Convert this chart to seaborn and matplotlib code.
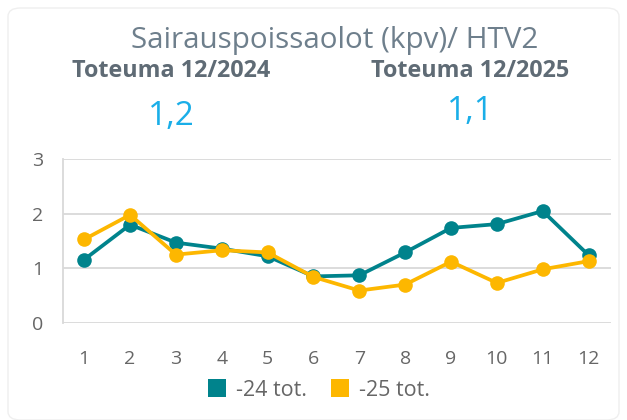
import matplotlib
matplotlib.use("Agg")
import matplotlib.pyplot as plt
from matplotlib.lines import Line2D
from matplotlib.patches import FancyBboxPatch
import seaborn as sns
import pandas as pd

months = [1, 2, 3, 4, 5, 6, 7, 8, 9, 10, 11, 12]
series_24 = [1.16, 1.80, 1.47, 1.36, 1.22, 0.85, 0.87, 1.29, 1.74, 1.81, 2.05, 1.24]
series_25 = [1.53, 1.98, 1.25, 1.33, 1.29, 0.84, 0.59, 0.70, 1.12, 0.73, 0.98, 1.13]
series_names = ["-24 tot.", "-25 tot."]
title = "Sairauspoissaolot (kpv)/ HTV2"
kpi_labels = ["Toteuma 12/2024", "Toteuma 12/2025"]
kpi_values = ["1,2", "1,1"]

TEAL = "#00838C"
YELLOW = "#FDB700"
TXT = "#666666"

sns.set_theme(style="white")
plt.rcParams["font.family"] = ["Open Sans", "DejaVu Sans"]

df = pd.DataFrame({
    "month": months * 2,
    "value": series_24 + series_25,
    "series": [series_names[0]] * len(months) + [series_names[1]] * len(months),
})

fig = plt.figure(figsize=(6.27, 4.2), dpi=100)
card = FancyBboxPatch((8 / 627, 0.0), 611 / 627, 412 / 420,
                      boxstyle="round,pad=0,rounding_size=0.02",
                      transform=fig.transFigure, facecolor="white",
                      edgecolor="#efefef", linewidth=1.0, zorder=-10)
fig.patches.append(card)

ax = fig.add_axes([62.7 / 627, 1 - 322.7 / 420, (611 - 62.7) / 627, (322.7 - 159.3) / 420])
ax.set_zorder(5)
ax.set_facecolor("none")
sns.lineplot(data=df, x="month", y="value", hue="series",
             palette=[TEAL, YELLOW], marker="o", markersize=10.5,
             markeredgewidth=0, linewidth=2.7, ax=ax, legend=False)

ax.set_xlim(0.53, 12.49)
ax.set_ylim(0, 3)
ax.set_xticks(months)
ax.set_xticklabels([str(m) for m in months])
ax.set_yticks([0, 1, 2, 3])
ax.grid(axis="y", color="#d9d9d9", linewidth=1.3)
ax.set_axisbelow(True)
for s in ["top", "right", "bottom"]:
    ax.spines[s].set_visible(False)
ax.spines["left"].set_color("#d9d9d9")
ax.spines["left"].set_linewidth(1.3)
ax.tick_params(axis="both", length=0, labelsize=14, labelcolor=TXT)
ax.tick_params(axis="x", pad=20)
ax.tick_params(axis="y", pad=14)
ax.set_xlabel("")
ax.set_ylabel("")

fig.text(335 / 627, 1 - 48.3 / 420, title, ha="center", va="baseline",
         fontsize=21.3, color="#6e7f8c")
fig.text(171 / 627, 1 - 77 / 420, kpi_labels[0], ha="center", va="baseline",
         fontsize=16.8, fontweight="bold", color="#5f6b75")
fig.text(470 / 627, 1 - 77 / 420, kpi_labels[1], ha="center", va="baseline",
         fontsize=16.8, fontweight="bold", color="#5f6b75")
fig.text(171 / 627, 1 - 125 / 420, kpi_values[0], ha="center", va="baseline",
         fontsize=24, color="#1AAEE8")
fig.text(470 / 627, 1 - 120 / 420, kpi_values[1], ha="center", va="baseline",
         fontsize=24, color="#1AAEE8")

handles = [Line2D([], [], linestyle="none", marker="s", markersize=13.5,
                  markerfacecolor=c, markeredgewidth=0) for c in [TEAL, YELLOW]]
fig.legend(handles, series_names, loc="center", bbox_to_anchor=(318 / 627, 1 - 390 / 420),
           ncol=2, frameon=False, fontsize=15.5, labelcolor=TXT,
           handletextpad=0.4, columnspacing=1.0, handlelength=1.0)

fig.savefig("out.png", dpi=100)
